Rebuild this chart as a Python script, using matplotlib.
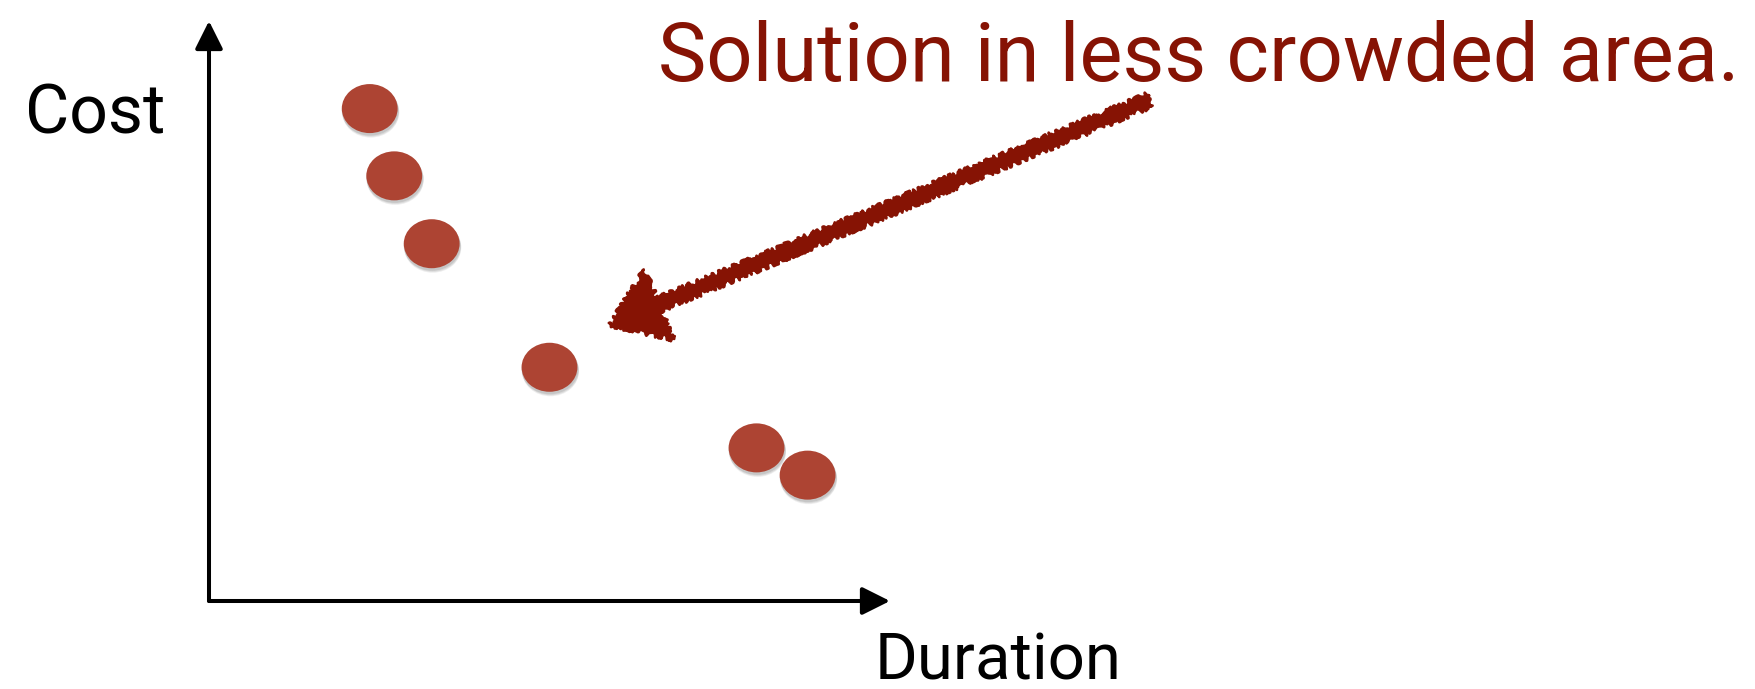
import matplotlib
matplotlib.use("Agg")
import matplotlib.pyplot as plt
from matplotlib.patches import Ellipse
from matplotlib.transforms import offset_copy

# solutions (duration, cost) in arbitrary units
duration = [2.36, 2.72, 3.27, 5.00, 8.04, 8.79]
cost = [8.49, 7.33, 6.16, 4.03, 2.64, 2.17]

note = "Solution in less crowded area."
arrow_tail = (13.82, 8.64)
arrow_tip = (5.89, 4.76)

W, H = 1755, 689
fig = plt.figure(figsize=(W / 100, H / 100), dpi=100)
fig.patch.set_facecolor("white")

# origin of the plot at pixel (209, 601), x arrow tip at 890, y arrow tip at 21
ax = fig.add_axes([209 / W, (H - 601) / H, (890 - 209) / W, (601 - 21) / H])
ax.set_xlim(0, 10)
ax.set_ylim(0, 10)
ax.axis("off")

font = dict(family=["Roboto", "DejaVu Sans"], weight="normal")
red = "#861304"
dot_red = "#ad4433"

# axis arrows
for end in [(1, 0), (0, 1)]:
    ax.annotate("", xy=end, xytext=(0, 0), xycoords="axes fraction",
                textcoords="axes fraction", annotation_clip=False,
                arrowprops=dict(arrowstyle="-|>,head_length=17,head_width=8.5",
                                mutation_scale=1, lw=2.9, color="black",
                                shrinkA=0, shrinkB=0))

# dots with soft shadow
dw, dh = 0.82, 0.845
for dx, dy, a in [(1, -4, 0.10), (1, -3, 0.12), (0.5, -2, 0.15)]:
    tr = offset_copy(ax.transData, fig=fig, x=dx, y=dy, units="dots")
    for x, y in zip(duration, cost):
        ax.add_patch(Ellipse((x, y), dw * 1.02, dh * 1.02, transform=tr,
                             facecolor="#555555", alpha=a, lw=0))
for x, y in zip(duration, cost):
    ax.add_patch(Ellipse((x, y), dw, dh, facecolor=dot_red, lw=0))

# hand-drawn pointer
ann = ax.annotate("", xy=arrow_tip, xytext=arrow_tail, annotation_clip=False,
                  arrowprops=dict(arrowstyle="simple,head_length=38,head_width=54,tail_width=9",
                                  mutation_scale=1, color=red, lw=2,
                                  shrinkA=0, shrinkB=0))
ann.arrow_patch.set_sketch_params(scale=2.5, length=6, randomness=20)

fig.text(658 / W, 1 - 81 / H, note, color=red, fontsize=58.5,
         ha="left", va="baseline", **font)
fig.text(25 / W, 1 - 134 / H, "Cost", color="black", fontsize=49,
         ha="left", va="baseline", **font)
fig.text(875 / W, 1 - 679 / H, "Duration", color="black", fontsize=47,
         ha="left", va="baseline", **font)

fig.savefig("out.png", dpi=100, facecolor="white")
